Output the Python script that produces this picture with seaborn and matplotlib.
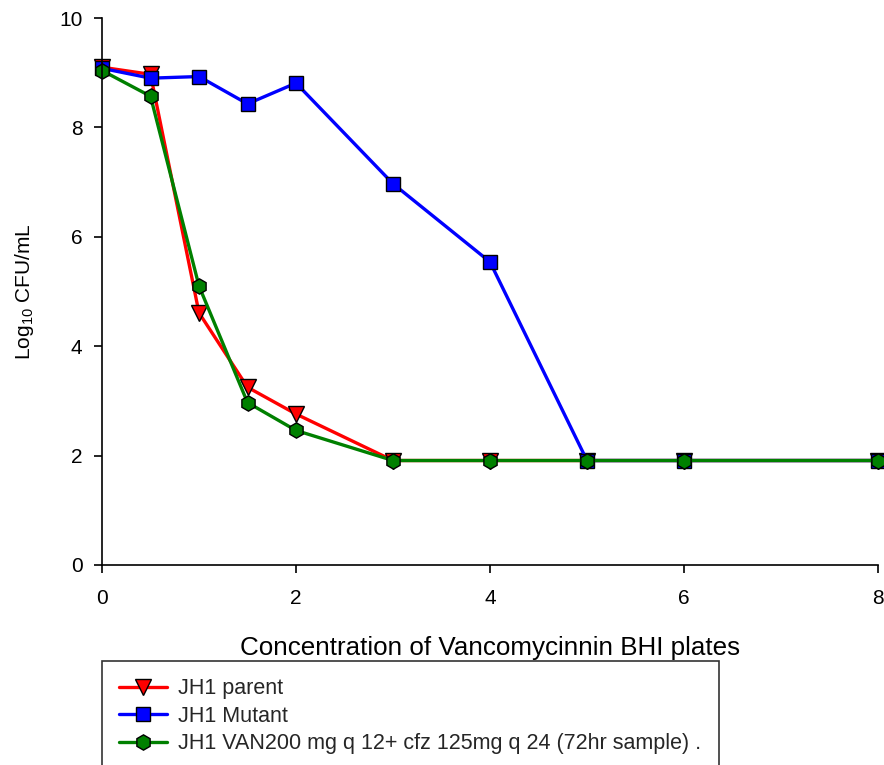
import matplotlib
matplotlib.use("Agg")
import matplotlib.pyplot as plt
import seaborn as sns
import pandas as pd

# Vancomycin concentration on BHI plates
conc = [0, 0.5, 1, 1.5, 2, 3, 4, 5, 6, 8]

# Log10 CFU/mL for each strain / regimen
parent = [9.10, 8.97, 4.61, 3.25, 2.76, 1.91, 1.91, 1.91, 1.91, 1.91]
mutant = [9.08, 8.90, 8.93, 8.43, 8.81, 6.97, 5.54, 1.91, 1.91, 1.91]
combo = [9.04, 8.57, 5.10, 2.97, 2.46, 1.91, 1.91, 1.91, 1.91, 1.91]

labels = [
    "JH1 parent",
    "JH1 Mutant",
    "JH1 VAN200 mg q 12+ cfz 125mg q 24 (72hr sample) .",
]

df = pd.concat(
    [
        pd.DataFrame({"conc": conc, "cfu": vals, "group": lab})
        for vals, lab in zip([parent, mutant, combo], labels)
    ],
    ignore_index=True,
)

sns.set_style("ticks")
plt.rcParams["font.family"] = ["Liberation Sans", "DejaVu Sans"]
plt.rcParams["mathtext.fontset"] = "custom"
plt.rcParams["mathtext.rm"] = "Liberation Sans"
plt.rcParams["mathtext.it"] = "Liberation Sans"

W, H = 884, 765
fig = plt.figure(figsize=(W / 100, H / 100), dpi=100)
ax = fig.add_axes([102 / W, 1 - 565 / H, (878 - 102) / W, (565 - 18) / H])

styles = {
    labels[0]: dict(color="#ff0000", marker="v", markersize=11),
    labels[1]: dict(color="#0000ff", marker="s", markersize=10.5),
    labels[2]: dict(color="#008000", marker="h", markersize=11),
}

for lab in labels:
    st = styles[lab]
    sns.lineplot(
        data=df[df["group"] == lab],
        x="conc",
        y="cfu",
        ax=ax,
        color=st["color"],
        marker=st["marker"],
        markersize=st["markersize"],
        markerfacecolor=st["color"],
        markeredgecolor="black",
        markeredgewidth=1.0,
        linewidth=2.4,
        label=lab,
        clip_on=False,
        legend=False,
    )

ax.set_xlim(0, 8)
ax.set_ylim(0, 10)
ax.set_xticks([0, 2, 4, 6, 8])
ax.set_yticks([0, 2, 4, 6, 8, 10])
ax.tick_params(axis="both", labelsize=15, length=6, width=1.2, color="black",
               labelcolor="black", direction="out")
ax.tick_params(axis="x", pad=11)
ax.tick_params(axis="y", pad=8)
for side in ["top", "right"]:
    ax.spines[side].set_visible(False)
for side in ["left", "bottom"]:
    ax.spines[side].set_color("black")
    ax.spines[side].set_linewidth(1.2)

ax.set_xlabel("Concentration of Vancomycinnin BHI plates", fontsize=18.7,
              color="black", labelpad=20.5)
ax.set_ylabel("Log$_{10}$ CFU/mL", fontsize=15, color="black", labelpad=17)

handles = ax.get_lines()[:3]
leg = fig.legend(
    handles,
    labels,
    loc="upper left",
    bbox_to_anchor=(102 / W, 1 - 661 / H, (719 - 102) / W, 0.0),
    mode="expand",
    fontsize=15.5,
    frameon=True,
    fancybox=False,
    handlelength=2.2,
    borderpad=0.8,
    labelspacing=0.3,
    handletextpad=0.55,
    borderaxespad=0,
)
leg.get_frame().set_edgecolor("black")
leg.get_frame().set_linewidth(1.2)

fig.savefig("out.png", dpi=100)
